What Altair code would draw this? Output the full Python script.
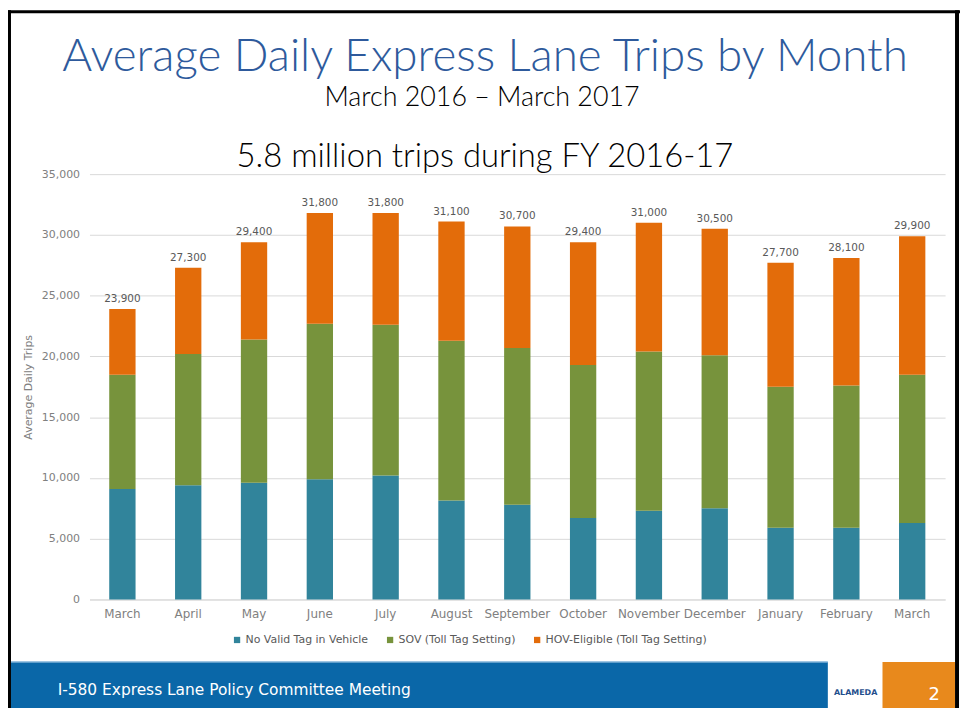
import altair as alt
import pandas as pd

# ---- data ----
months = ["March 2016", "April 2016", "May 2016", "June 2016", "July 2016", "August 2016",
          "September 2016", "October 2016", "November 2016", "December 2016",
          "January 2017", "February 2017", "March 2017"]
no_valid_tag = [9100, 9400, 9600, 9900, 10200, 8150, 7800, 6700, 7300, 7500, 5900, 5900, 6300]
sov = [9400, 10800, 11800, 12800, 12400, 13150, 12900, 12600, 13100, 12600, 11600, 11700, 12200]
hov = [5400, 7100, 8000, 9100, 9200, 9800, 10000, 10100, 10600, 10400, 10200, 10500, 11400]
totals = [23900, 27300, 29400, 31800, 31800, 31100, 30700, 29400, 31000, 30500, 27700, 28100, 29900]

series_names = ["No Valid Tag in Vehicle", "SOV (Toll Tag Setting)", "HOV-Eligible (Toll Tag Setting)"]
series_colors = ["#31849B", "#77933C", "#E36C0A"]
y_ticks = [0, 5000, 10000, 15000, 20000, 25000, 30000, 35000]

headline = ["Average Daily Express Lane Trips by Month"]
subhead = ["March 2016 \u2013 March 2017"]
chart_caption = ["5.8 million trips during FY 2016-17"]
footer_text = ["I-580 Express Lane Policy Committee Meeting"]
page_number = ["2"]
logo_text = ["ALAMEDA"]

# ---- tables ----
rows = []
for i, m in enumerate(months):
    for k, (name, vals) in enumerate(zip(series_names, [no_valid_tag, sov, hov])):
        rows.append({"month": m, "series": name, "order": k, "value": vals[i]})
df = pd.DataFrame(rows)
df_tot = pd.DataFrame({"month": months, "total": totals})

W, H = 861, 428
FONT = "DejaVu Sans"
GREY = "#808080"

x_enc = alt.X("month:N", sort=months, title=None,
              scale=alt.Scale(paddingInner=0.6, paddingOuter=0.3),
              axis=alt.Axis(labelExpr="split(datum.label, ' ')[0]", labelAngle=0,
                            ticks=False, domainColor="#d9d9d9", labelColor=GREY,
                            labelFontSize=12, labelPadding=9, labelFont=FONT))

bars = alt.Chart(df).mark_bar().encode(
    x=x_enc,
    y=alt.Y("value:Q", stack="zero", title="Average Daily Trips",
            scale=alt.Scale(domain=[0, 35000]),
            axis=alt.Axis(values=y_ticks, labelExpr="format(datum.value, ',')",
                          ticks=False, domain=False,
                          gridColor="#d9d9d9", labelColor=GREY, labelFontSize=11,
                          labelPadding=10, labelFont=FONT, titleFont=FONT,
                          titleFontSize=11, titleFontWeight="normal", titleColor=GREY,
                          titlePadding=8)),
    color=alt.Color("series:N", scale=alt.Scale(domain=series_names, range=series_colors),
                    legend=alt.Legend(orient="none", legendX=143, legendY=463,
                                      direction="horizontal", title=None,
                                      symbolType="square", symbolSize=40,
                                      symbolStrokeWidth=0, labelLimit=400,
                                      labelFont=FONT, labelFontSize=11,
                                      labelColor="#595959", columnPadding=16,
                                      labelOffset=3)),
    order=alt.Order("order:Q", sort="ascending"),
)

labels = alt.Chart(df_tot).mark_text(baseline="bottom", dy=-5, font=FONT, fontSize=10.5,
                                     color="#595959").encode(
    x=alt.X("month:N", sort=months),
    y=alt.Y("total:Q"),
    text=alt.Text("total:Q", format=","),
)

def txt(data, **kw):
    return alt.Chart(pd.DataFrame({"t": data})).mark_text(**kw)

t_head = txt(headline, font="Lato", fontSize=46, fontWeight=300, color="#2E5A9C",
             align="center", baseline="alphabetic").encode(
    x=alt.value(398), y=alt.value(-104), text="t:N")
t_sub = txt(subhead, font="Lato", fontSize=27, fontWeight=300, color="#000000",
            align="center", baseline="alphabetic").encode(
    x=alt.value(395), y=alt.value(-69), text="t:N")
t_cap = txt(chart_caption, font="Lato", fontSize=33, fontWeight=300, color="#000000",
            align="center", baseline="alphabetic").encode(
    x=alt.value(398), y=alt.value(-7), text="t:N")

footer_band = alt.Chart(pd.DataFrame({"a": [0]})).mark_rect(color="#0A67A8").encode(
    x=alt.value(-79), x2=alt.value(743), y=alt.value(491), y2=alt.value(540))
footer_line = alt.Chart(pd.DataFrame({"a": [0]})).mark_rule(color="#7FB2D9", strokeWidth=1.5).encode(
    x=alt.value(-79), x2=alt.value(743), y=alt.value(491))
orange_box = alt.Chart(pd.DataFrame({"a": [0]})).mark_rect(color="#E8891C").encode(
    x=alt.value(798), x2=alt.value(871), y=alt.value(491), y2=alt.value(540))
t_footer = txt(footer_text, font=FONT, fontSize=15.5, color="#FFFFFF", align="left",
               baseline="alphabetic").encode(x=alt.value(-32), y=alt.value(524), text="t:N")
t_page = txt(page_number, font=FONT, fontSize=18, color="#FFFFFF", align="center",
             baseline="alphabetic").encode(x=alt.value(850), y=alt.value(529), text="t:N")
t_logo = txt(logo_text, font=FONT, fontSize=8, fontWeight="bold", color="#1F4E8C",
             align="center", baseline="middle").encode(x=alt.value(771), y=alt.value(522), text="t:N")

border_l = alt.Chart(pd.DataFrame({"a": [0]})).mark_rule(color="#000000", strokeWidth=3).encode(
    x=alt.value(-80.5), y=alt.value(-165), y2=alt.value(540))
border_t = alt.Chart(pd.DataFrame({"a": [0]})).mark_rule(color="#000000", strokeWidth=3).encode(
    x=alt.value(-82), x2=alt.value(876), y=alt.value(-163.5))
border_r = alt.Chart(pd.DataFrame({"a": [0]})).mark_rule(color="#000000", strokeWidth=4).encode(
    x=alt.value(873), y=alt.value(-165), y2=alt.value(540))

chart = alt.layer(
    bars, labels, t_head, t_sub, t_cap,
    footer_band, footer_line, orange_box, t_footer, t_page, t_logo,
    border_l, border_t, border_r,
).properties(
    width=W, height=H,
    background="#FFFFFF",
    autosize=alt.AutoSizeParams(type="none"),
    padding={"left": 82, "top": 165, "right": 15, "bottom": 107},
).configure_view(strokeWidth=0, stroke="transparent")

chart.save("out.html", embed_options={"renderer": "svg", "actions": False})
